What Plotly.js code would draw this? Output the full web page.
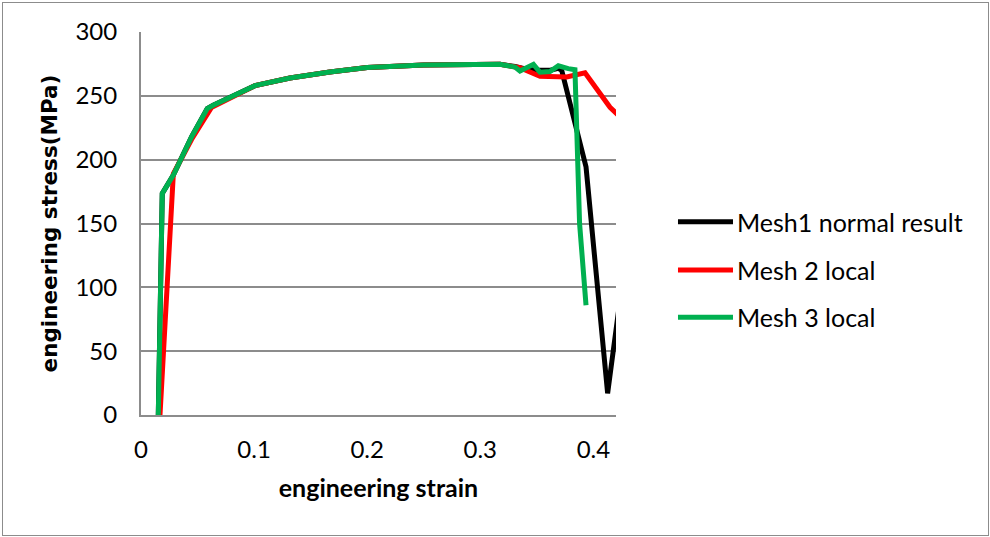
<!DOCTYPE html>
<html>
<head>
<meta charset="utf-8">
<script src="https://cdn.plot.ly/plotly-3.0.1.min.js"></script>
<style>
html,body{margin:0;padding:0;background:#fff;}
#chart{position:absolute;left:0;top:0;width:990px;height:537px;}
#frame{position:absolute;left:2px;top:2px;width:985px;height:532px;border:1px solid #8c8c8c;pointer-events:none;}
</style>
</head>
<body>
<div id="chart"></div>
<div id="frame"></div>
<script>
// Series names
var seriesNames = ["Mesh1 normal result", "Mesh 2 local", "Mesh 3 local"];
var seriesColors = ["#000000", "#FF0000", "#00B050"];

// Mesh1 normal result
var mesh1Strain = [0.0153, 0.0188, 0.0286, 0.0448, 0.0586, 0.0639, 0.1008, 0.1317, 0.167, 0.2, 0.25, 0.3, 0.3174, 0.3307, 0.34, 0.35, 0.362, 0.369, 0.372, 0.3935, 0.4126, 0.425];
var mesh1Stress = [0, 173.5, 188, 218, 240, 242.6, 258, 264, 268.7, 272.2, 274.2, 275, 274.7, 273, 271, 270, 270, 271.5, 270, 194.3, 17, 100];

// Mesh 2 local
var mesh2Strain = [0.0168, 0.0286, 0.0448, 0.0622, 0.1008, 0.1317, 0.167, 0.2, 0.25, 0.3, 0.3174, 0.335, 0.3528, 0.3764, 0.3926, 0.4147, 0.43];
var mesh2Stress = [0, 189, 216, 240.8, 258, 264, 268.7, 272.2, 274.2, 275, 274.7, 272, 265.3, 264.8, 268, 241, 228];

// Mesh 3 local
var mesh3Strain = [0.0153, 0.0188, 0.0286, 0.0448, 0.0586, 0.0639, 0.1008, 0.1317, 0.167, 0.2, 0.25, 0.3, 0.3174, 0.3307, 0.3351, 0.347, 0.3528, 0.3616, 0.369, 0.3778, 0.3837, 0.3878, 0.3935];
var mesh3Stress = [0, 173.5, 188, 218, 240, 242.6, 258, 264, 268.7, 272.2, 274.2, 275, 274.7, 272.6, 269.5, 274.7, 268.5, 269, 273.5, 271.3, 270.5, 150, 86];

// Axis ticks
var xTicks = [0, 0.1, 0.2, 0.3, 0.4];
var xTickLabels = ["0", "0.1", "0.2", "0.3", "0.4"];
var yTicks = [0, 50, 100, 150, 200, 250, 300];

var xs = [mesh1Strain, mesh2Strain, mesh3Strain];
var ys = [mesh1Stress, mesh2Stress, mesh3Stress];

var FONT = "Lato, 'Open Sans', sans-serif";

var traces = [];
for (var i = 0; i < 3; i++) {
  traces.push({
    x: xs[i], y: ys[i], name: seriesNames[i], type: "scatter", mode: "lines",
    line: {color: seriesColors[i], width: 5, shape: "linear"},
    showlegend: false, hoverinfo: "skip", cliponaxis: true
  });
}

// custom legend (lines + labels in paper coordinates)
var legY = [0.5047, 0.3786, 0.2551];
var shapes = [];
var annotations = [];
for (var j = 0; j < 3; j++) {
  shapes.push({type: "line", xref: "paper", yref: "paper", x0: 1.1305, x1: 1.2463, y0: legY[j], y1: legY[j],
    line: {color: seriesColors[j], width: 5}});
  annotations.push({xref: "paper", yref: "paper", x: 1.2505, y: legY[j], xanchor: "left", yanchor: "middle",
    text: seriesNames[j], showarrow: false, font: {family: FONT, size: 25, color: "#000"}});
}

var layout = {
  width: 990, height: 537,
  margin: {l: 141, r: 374, t: 32, b: 122, pad: 0},
  paper_bgcolor: "#ffffff", plot_bgcolor: "#ffffff",
  font: {family: FONT, size: 21, color: "#000"},
  xaxis: {
    range: [0, 0.42], tickvals: xTicks, ticktext: xTickLabels,
    showgrid: false, zeroline: false, showline: true, linecolor: "#8c8c8c", linewidth: 2,
    ticks: "", ticklabelstandoff: 12, automargin: false,
    tickfont: {family: FONT, size: 24},
    title: {text: "<b>engineering strain</b>", font: {family: FONT, size: 25}, standoff: 18}
  },
  yaxis: {
    range: [0, 300], tickvals: yTicks,
    showgrid: true, gridcolor: "#8c8c8c", gridwidth: 2, zeroline: false,
    showline: true, linecolor: "#8c8c8c", linewidth: 2,
    ticks: "", ticklabelstandoff: 17, automargin: false,
    tickfont: {family: FONT, size: 24},
    title: {text: "<b>engineering stress(MPa)</b>", font: {family: "'DejaVu Sans', sans-serif", size: 21.5}, standoff: 12}
  },
  shapes: shapes,
  annotations: annotations
};

Plotly.newPlot("chart", traces, layout, {staticPlot: true, displayModeBar: false});
</script>
</body>
</html>
